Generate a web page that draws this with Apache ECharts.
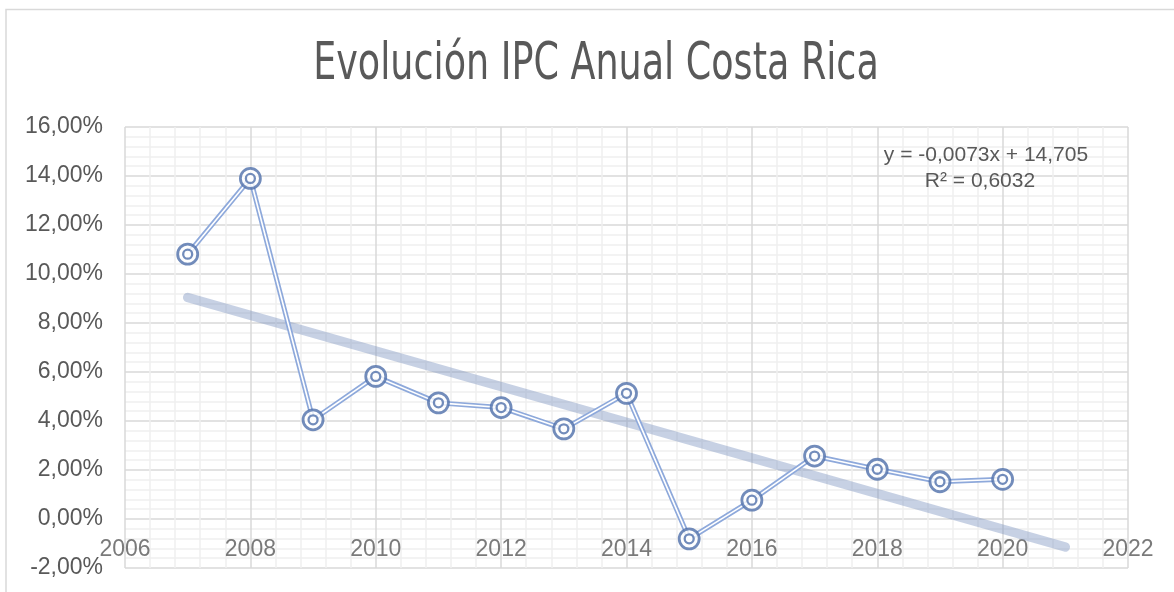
<!DOCTYPE html>
<html>
<head>
<meta charset="utf-8">
<script src="https://cdn.jsdelivr.net/npm/echarts@6/dist/echarts.min.js"></script>
<style>html,body{margin:0;padding:0;background:#fff}#c{width:1174px;height:592px}</style>
</head>
<body>
<div id="c"></div>
<script>
var years = [2007, 2008, 2009, 2010, 2011, 2012, 2013, 2014, 2015, 2016, 2017, 2018, 2019, 2020];
var ipc = [0.1081, 0.1390, 0.0405, 0.0582, 0.0474, 0.0455, 0.0368, 0.0513, -0.0081, 0.0077, 0.0257, 0.0203, 0.0152, 0.0162];
var trendYears = [2007, 2021];
var xTickLabels = [2006, 2008, 2010, 2012, 2014, 2016, 2018, 2020, 2022];
var titleText = 'Evolución IPC Anual Costa Rica';
var equationLines = ['y = -0,0073x + 14,705', 'R² = 0,6032'];

// least squares trendline from the data
var n = years.length, mx = 0, my = 0;
for (var i = 0; i < n; i++) { mx += years[i]; my += ipc[i]; }
mx /= n; my /= n;
var sxy = 0, sxx = 0;
for (var i = 0; i < n; i++) { sxy += (years[i] - mx) * (ipc[i] - my); sxx += (years[i] - mx) * (years[i] - mx); }
var slope = sxy / sxx, icpt = my - slope * mx;
var trendData = trendYears.map(function (x) { return [x, icpt + slope * x]; });
var pts = years.map(function (y, i) { return [y, ipc[i]]; });
var xLabelPts = xTickLabels.map(function (x) { return [x, 0]; });

var txt = '#595959';
var chart = echarts.init(document.getElementById('c'), null, { renderer: 'canvas' });
chart.setOption({
  animation: false,
  backgroundColor: '#fff',
  grid: { left: 125, right: 46, top: 127, bottom: 24, containLabel: false, outerBoundsMode: 'none' },
  xAxis: {
    type: 'value', min: 2006, max: 2022, interval: 2,
    axisLine: { show: false, onZero: false },
    axisTick: { show: false },
    axisLabel: { show: false },
    splitLine: { show: true, lineStyle: { color: '#d9d9d9', width: 1.5 } },
    minorTick: { show: false, splitNumber: 5 },
    minorSplitLine: { show: true, lineStyle: { color: '#efefef', width: 1.5 } }
  },
  yAxis: {
    type: 'value', min: -0.02, max: 0.16, interval: 0.02,
    axisLine: { show: false },
    axisTick: { show: false },
    axisLabel: { color: txt, fontFamily: 'Liberation Sans', fontSize: 23, margin: 22,
      formatter: function (v) { return (v * 100).toFixed(2).replace('.', ',') + '%'; } },
    splitLine: { show: true, lineStyle: { color: '#d9d9d9', width: 1.5 } },
    minorTick: { show: false, splitNumber: 5 },
    minorSplitLine: { show: true, lineStyle: { color: '#efefef', width: 1.5 } }
  },
  series: [
    { type: 'scatter', data: xLabelPts, symbolSize: 0, z: 1, silent: true,
      itemStyle: { color: 'transparent' },
      label: { show: true, position: 'bottom', distance: 19, color: txt, fontFamily: 'Liberation Sans', fontSize: 23,
        formatter: function (p) { return String(p.value[0]); } } },
    { type: 'line', data: trendData, symbol: 'none', z: 2, silent: true,
      lineStyle: { color: 'rgba(130,152,196,0.45)', width: 9.5, cap: 'round' } },
    { type: 'line', data: pts, symbol: 'none', z: 3, silent: true,
      lineStyle: { color: '#8ea9db', width: 5 } },
    { type: 'line', data: pts, symbol: 'none', z: 4, silent: true,
      lineStyle: { color: '#ffffff', width: 1.6 } },
    { type: 'scatter', data: pts, symbol: 'circle', symbolSize: 20, z: 5, silent: true,
      itemStyle: { color: '#ffffff', borderColor: '#4f6faa', borderWidth: 2.8 } },
    { type: 'scatter', data: pts, symbol: 'circle', symbolSize: 9, z: 6, silent: true,
      itemStyle: { color: '#ffffff', borderColor: '#4f6faa', borderWidth: 2.3 } }
  ],
  graphic: [
    { type: 'rect', shape: { x: 6, y: 9.5, width: 1200, height: 700 }, silent: true, z: -10,
      style: { fill: 'none', stroke: '#d9d9d9', lineWidth: 1.5 } },
    { type: 'text', x: 596, y: 65, scaleX: 0.78, silent: true, z: 10,
      style: { text: titleText, font: '52px "Liberation Sans Narrow", "DejaVu Sans Condensed", sans-serif',
        fill: txt, align: 'center', verticalAlign: 'middle' } },
    { type: 'text', x: 986, y: 155, silent: true, z: 10,
      style: { text: equationLines[0], font: '21px "Liberation Sans", sans-serif', fill: txt, align: 'center', verticalAlign: 'middle' } },
    { type: 'text', x: 980, y: 181, silent: true, z: 10,
      style: { text: equationLines[1], font: '21px "Liberation Sans", sans-serif', fill: txt, align: 'center', verticalAlign: 'middle' } }
  ]
});
</script>
</body>
</html>
